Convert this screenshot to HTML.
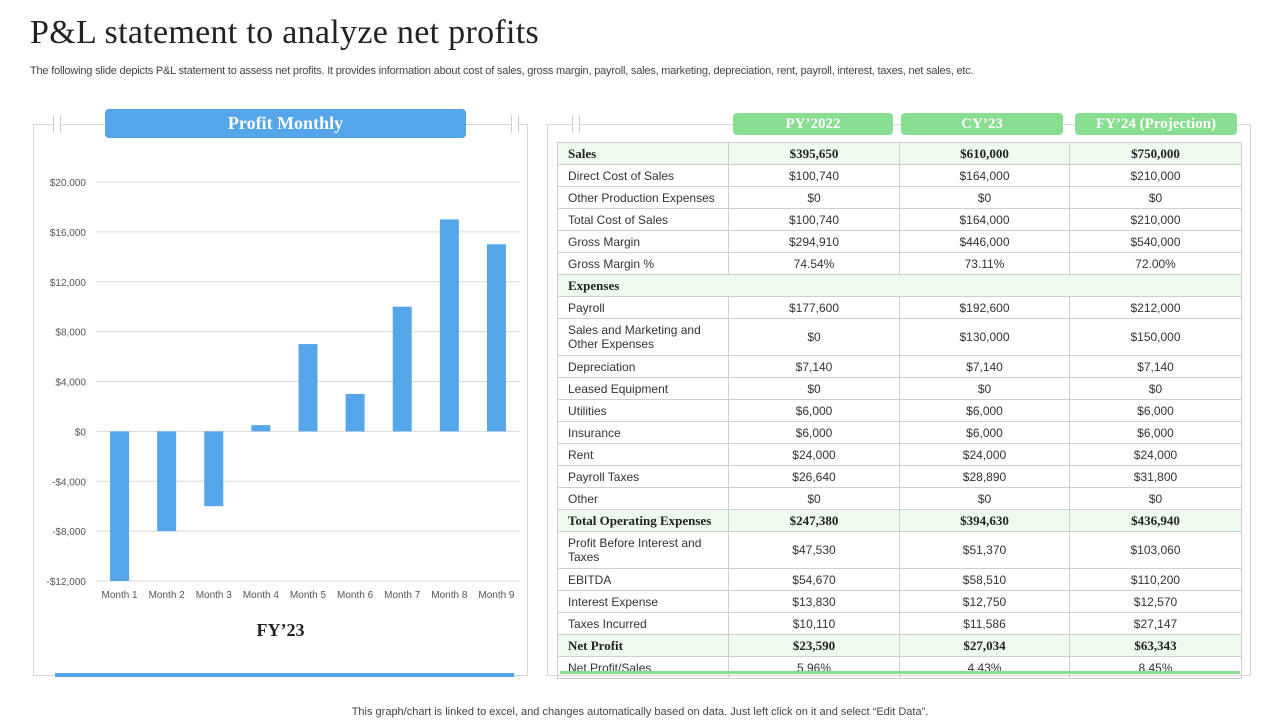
<!DOCTYPE html>
<html><head><meta charset="utf-8">
<style>
*{margin:0;padding:0;box-sizing:border-box}
body{width:1280px;height:720px;background:#fff;position:relative;overflow:hidden;font-family:"Liberation Sans",sans-serif;color:#333}
.abs{position:absolute}
h1{position:absolute;left:30px;top:14px;font-family:"Liberation Serif",serif;font-weight:normal;font-size:34px;color:#222;letter-spacing:0.3px}
.sub{left:30px;top:65px;font-size:11px;color:#444;letter-spacing:-0.2px}
.panel{border:1px solid #d6d6d6;background:#fff}
.pill{color:#fff;font-family:"Liberation Serif",serif;font-weight:bold;text-align:center;border-radius:4px}
table{position:absolute;left:557px;top:142px;width:684px;border-collapse:collapse;font-size:12px;table-layout:fixed}
td{border:1px solid #cfcfcf;height:22px;padding:0 10px;text-align:center;color:#333}
td:first-child{text-align:left}
tr.g td{background:#eefaee;font-family:"Liberation Serif",serif;font-weight:bold;font-size:13px;color:#222}
tr.t td{height:37px;line-height:14px}
.foot{left:0;width:1280px;top:706px;text-align:center;font-size:11px;color:#444}
</style></head><body>
<h1>P&amp;L statement to analyze net profits</h1>
<div class="abs sub">The following slide depicts P&amp;L statement to assess net profits. It provides information about cost of sales, gross margin, payroll, sales, marketing, depreciation, rent, payroll, interest, taxes, net sales, etc.</div>

<div class="abs panel" style="left:33px;top:124px;width:495px;height:552px"></div>
<div class="abs" style="left:53px;top:115px;width:8px;height:18px;border-left:1px solid #ccc;border-right:1px solid #ccc;background:#fff"></div>
<div class="abs" style="left:511px;top:115px;width:8px;height:18px;border-left:1px solid #ccc;border-right:1px solid #ccc;background:#fff"></div>
<div class="abs pill" style="left:105px;top:109px;width:361px;height:29px;line-height:29px;font-size:18px;background:#55a5ea">Profit Monthly</div>
<svg class="abs" style="left:0;top:0" width="540" height="700" id="chart"></svg>
<div class="abs" style="left:33px;top:620px;width:495px;text-align:center;font-family:'Liberation Serif',serif;font-weight:bold;font-size:18px;color:#222">FY’23</div>
<div class="abs" style="left:55px;top:673px;width:459px;height:4px;background:#55a5ea"></div>

<div class="abs panel" style="left:547px;top:124px;width:704px;height:552px"></div>
<div class="abs" style="left:572px;top:115px;width:8px;height:18px;border-left:1px solid #ccc;border-right:1px solid #ccc;background:#fff"></div>
<div class="abs pill" style="left:733px;top:113px;width:160px;height:22px;line-height:22px;font-size:15px;background:#88dd90">PY’2022</div>
<div class="abs pill" style="left:901px;top:113px;width:162px;height:22px;line-height:22px;font-size:15px;background:#88dd90">CY’23</div>
<div class="abs pill" style="left:1075px;top:113px;width:162px;height:22px;line-height:22px;font-size:15px;background:#88dd90">FY’24 (Projection)</div>

<table>
<colgroup><col style="width:171px"><col style="width:171px"><col style="width:170px"><col style="width:172px"></colgroup>
<tr class="g"><td>Sales</td><td>$395,650</td><td>$610,000</td><td>$750,000</td></tr>
<tr><td>Direct Cost of Sales</td><td>$100,740</td><td>$164,000</td><td>$210,000</td></tr>
<tr><td>Other Production Expenses</td><td>$0</td><td>$0</td><td>$0</td></tr>
<tr><td>Total Cost of Sales</td><td>$100,740</td><td>$164,000</td><td>$210,000</td></tr>
<tr><td>Gross Margin</td><td>$294,910</td><td>$446,000</td><td>$540,000</td></tr>
<tr><td>Gross Margin %</td><td>74.54%</td><td>73.11%</td><td>72.00%</td></tr>
<tr class="g"><td colspan="4">Expenses</td></tr>
<tr><td>Payroll</td><td>$177,600</td><td>$192,600</td><td>$212,000</td></tr>
<tr class="t"><td>Sales and Marketing and Other Expenses</td><td>$0</td><td>$130,000</td><td>$150,000</td></tr>
<tr><td>Depreciation</td><td>$7,140</td><td>$7,140</td><td>$7,140</td></tr>
<tr><td>Leased Equipment</td><td>$0</td><td>$0</td><td>$0</td></tr>
<tr><td>Utilities</td><td>$6,000</td><td>$6,000</td><td>$6,000</td></tr>
<tr><td>Insurance</td><td>$6,000</td><td>$6,000</td><td>$6,000</td></tr>
<tr><td>Rent</td><td>$24,000</td><td>$24,000</td><td>$24,000</td></tr>
<tr><td>Payroll Taxes</td><td>$26,640</td><td>$28,890</td><td>$31,800</td></tr>
<tr><td>Other</td><td>$0</td><td>$0</td><td>$0</td></tr>
<tr class="g"><td>Total Operating Expenses</td><td>$247,380</td><td>$394,630</td><td>$436,940</td></tr>
<tr class="t"><td>Profit Before Interest and Taxes</td><td>$47,530</td><td>$51,370</td><td>$103,060</td></tr>
<tr><td>EBITDA</td><td>$54,670</td><td>$58,510</td><td>$110,200</td></tr>
<tr><td>Interest Expense</td><td>$13,830</td><td>$12,750</td><td>$12,570</td></tr>
<tr><td>Taxes Incurred</td><td>$10,110</td><td>$11,586</td><td>$27,147</td></tr>
<tr class="g"><td>Net Profit</td><td>$23,590</td><td>$27,034</td><td>$63,343</td></tr>
<tr><td>Net Profit/Sales</td><td>5.96%</td><td>4.43%</td><td>8.45%</td></tr>
</table>
<div class="abs" style="left:560px;top:671px;width:680px;height:3px;background:#88dd90"></div>

<div class="abs foot">This graph/chart is linked to excel,  and changes automatically based on data. Just left click on it and select “Edit Data”.</div>

<script>
const categories=["Month 1","Month 2","Month 3","Month 4","Month 5","Month 6","Month 7","Month 8","Month 9"];
const profitValues=[-12000,-8000,-6000,500,7000,3000,10000,17000,15000];
const tickValues=[20000,16000,12000,8000,4000,0,-4000,-8000,-12000];
const tickLabels=["$20,000","$16,000","$12,000","$8,000","$4,000","$0","-$4,000","-$8,000","-$12,000"];
(function(){
const svg=document.getElementById('chart');const NS='http://www.w3.org/2000/svg';
const x0=96,x1=520,yTop=182,yBot=581,vMax=20000,vMin=-12000;
const y=v=>yTop+(vMax-v)/(vMax-vMin)*(yBot-yTop);
const band=(x1-x0)/categories.length;
function mk(t,a){const e=document.createElementNS(NS,t);for(const k in a)e.setAttribute(k,a[k]);svg.appendChild(e);return e;}
tickValues.forEach((v,i)=>{
 const l=mk('line',{x1:x0,x2:x1,y1:y(v),y2:y(v),stroke:'#d9d9d9','stroke-width':1});
 
 
 const t=mk('text',{x:86,y:y(v)+4,'text-anchor':'end','font-size':10,fill:'#555','font-family':'Liberation Sans'});
 t.textContent=tickLabels[i];
 
 
});
categories.forEach((c,i)=>{
 const cx=x0+band*(i+0.5),v=profitValues[i];
 const r=mk('rect',{x:cx-9.5,width:19,y:Math.min(y(v),y(0)),height:Math.abs(y(v)-y(0)),fill:'#55a5ea'});
 
 
 const t=mk('text',{x:cx,y:598,'text-anchor':'middle','font-size':10,fill:'#555','font-family':'Liberation Sans'});
 t.textContent=c;
 
 
});
})();
</script>
</body></html>
